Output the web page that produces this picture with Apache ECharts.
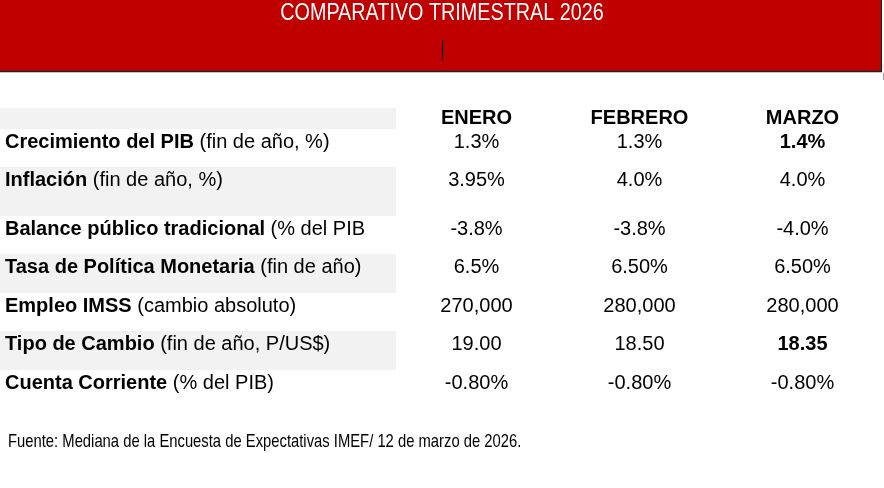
<!DOCTYPE html>
<html><head><meta charset="utf-8">
<script src="https://cdn.jsdelivr.net/npm/echarts@6/dist/echarts.min.js"></script>
<style>html,body{margin:0;padding:0;background:#fff}#c{width:884px;height:488px}</style>
</head><body><div id="c"></div><script>
// ---- data ----
const titleText = 'COMPARATIVO TRIMESTRAL 2026';
const sourceText = 'Fuente: Mediana de la Encuesta de Expectativas IMEF/ 12 de marzo de 2026.';
const months = ['ENERO', 'FEBRERO', 'MARZO'];
const indicators = ['Crecimiento del PIB', 'Inflación', 'Balance público tradicional', 'Tasa de Política Monetaria', 'Empleo IMSS', 'Tipo de Cambio', 'Cuenta Corriente'];
const units = ['(fin de año, %)', '(fin de año, %)', '(% del PIB', '(fin de año)', '(cambio absoluto)', '(fin de año, P/US$)', '(% del PIB)'];
const enero = ['1.3%', '3.95%', '-3.8%', '6.5%', '270,000', '19.00', '-0.80%'];
const febrero = ['1.3%', '4.0%', '-3.8%', '6.50%', '280,000', '18.50', '-0.80%'];
const marzo = ['1.4%', '4.0%', '-4.0%', '6.50%', '280,000', '18.35', '-0.80%'];
const boldCells = [[2, 0], [2, 5]]; // [month index, indicator index]

// ---- layout (not data) ----
const rowHeights = [21, 38, 49, 38, 39, 38, 39, 38]; // header row + indicator rows
const TEXT_OFFSET = 13.5;
const SANS = "'Liberation Sans',Arial,sans-serif";

const rowTops = [];
rowHeights.reduce((acc, h) => { rowTops.push(acc); return acc + h; }, 0);
const tableHeight = rowHeights.reduce((a, b) => a + b, 0);
const columns = [enero, febrero, marzo];
const isBold = (c, r) => boldCells.some(b => b[0] === c && b[1] === r);

const stripeData = rowHeights.map((h, i) => [0, rowTops[i], h, i]).filter(d => d[3] % 2 === 0);
const labelData = indicators.map((_, i) => [0, rowTops[i + 1] + TEXT_OFFSET, i]);
const valueData = [];
columns.forEach((col, c) => col.forEach((_, r) => valueData.push([c, rowTops[r + 1] + TEXT_OFFSET, r])));

const chart = echarts.init(document.getElementById('c'));
chart.setOption({
  animation: false,
  backgroundColor: '#fff',
  graphic: [
    { type: 'rect', z: 1, shape: { x: 0, y: 0, width: 881, height: 71 }, style: { fill: '#c00000' } },
    { type: 'line', z: 2, shape: { x1: 0, y1: 71.5, x2: 882, y2: 71.5 }, style: { stroke: '#222', lineWidth: 1.5 } },
    { type: 'line', z: 2, shape: { x1: 881.5, y1: 0, x2: 881.5, y2: 72 }, style: { stroke: '#222', lineWidth: 1 } },
    { type: 'line', z: 2, shape: { x1: 442.5, y1: 40, x2: 442.5, y2: 61 }, style: { stroke: '#000', lineWidth: 1.2 } },
    { type: 'line', z: 2, shape: { x1: 883.5, y1: 73, x2: 883.5, y2: 80 }, style: { stroke: '#999', lineWidth: 1 } },
    { type: 'text', z: 5, x: 442, y: 13.5, scaleX: 0.86, scaleY: 1, originX: 0, originY: 0,
      style: { text: titleText, align: 'center', verticalAlign: 'middle', font: '23px ' + SANS, fill: '#fff' } },
    { type: 'text', z: 5, x: 8, y: 441.5, scaleX: 0.8, scaleY: 1, originX: 0, originY: 0,
      style: { text: sourceText, align: 'left', verticalAlign: 'middle', font: '18.5px ' + SANS, fill: '#000' } }
  ],
  grid: { left: 395, width: 494, top: 108, height: tableHeight },
  xAxis: {
    type: 'category', data: months, position: 'top',
    axisLine: { show: false }, axisTick: { show: false }, splitLine: { show: false },
    axisLabel: { inside: true, margin: 0, color: '#000', fontFamily: SANS, fontSize: 20, fontWeight: 'bold' }
  },
  yAxis: { type: 'value', min: 0, max: tableHeight, inverse: true, show: false },
  series: [
    {
      type: 'custom', clip: false, silent: true, z: 1, data: stripeData,
      renderItem(params, api) {
        const y0 = api.coord([0, api.value(1)])[1];
        const y1 = api.coord([0, api.value(1) + api.value(2)])[1];
        return { type: 'rect', shape: { x: 0, y: y0, width: params.coordSys.x + 1, height: y1 - y0 }, style: { fill: '#f2f2f2' } };
      }
    },
    {
      type: 'custom', clip: false, silent: true, z: 3, data: labelData,
      renderItem(params, api) {
        const r = api.value(2);
        const y = api.coord([0, api.value(1)])[1];
        return {
          type: 'text', x: 5, y: y,
          style: {
            text: '{b|' + indicators[r] + '} {n|' + units[r] + '}',
            verticalAlign: 'middle', align: 'left',
            rich: {
              b: { fontFamily: SANS, fontSize: 20, fontWeight: 'bold', fill: '#000', color: '#000' },
              n: { fontFamily: SANS, fontSize: 20, fontWeight: 'normal', fill: '#000', color: '#000' }
            },
            font: '20px ' + SANS, fill: '#000'
          }
        };
      }
    },
    {
      type: 'custom', clip: false, silent: true, z: 3, data: valueData,
      renderItem(params, api) {
        const c = api.value(0), r = api.value(2);
        const p = api.coord([c, api.value(1)]);
        return {
          type: 'text', x: p[0], y: p[1],
          style: {
            text: columns[c][r], align: 'center', verticalAlign: 'middle',
            font: (isBold(c, r) ? 'bold ' : '') + '20px ' + SANS, fill: '#000'
          }
        };
      }
    }
  ]
});
</script></body></html>
